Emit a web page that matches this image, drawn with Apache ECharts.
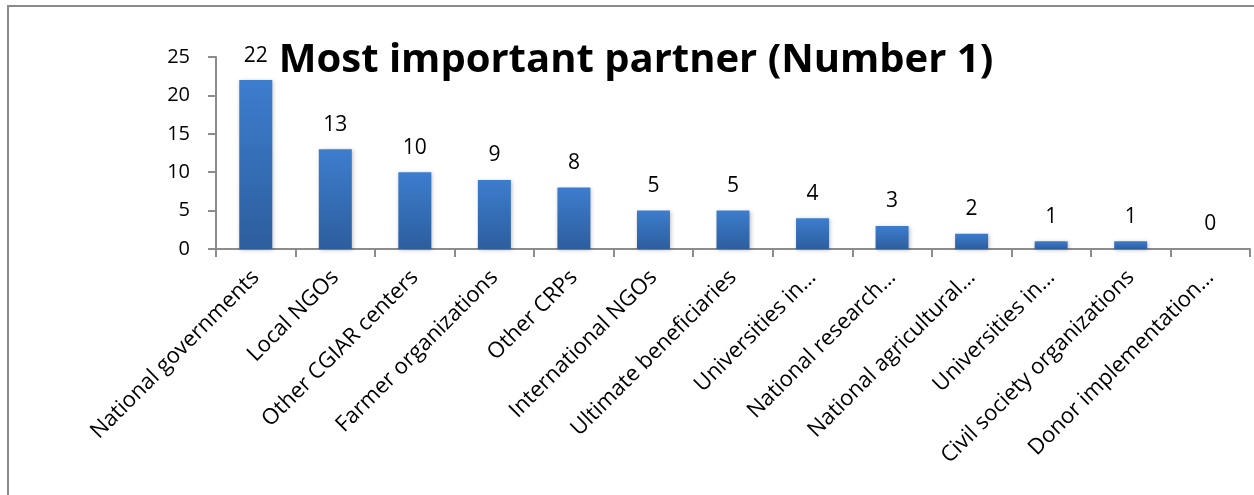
<!DOCTYPE html>
<html>
<head>
<meta charset="utf-8">
<script src="https://cdn.jsdelivr.net/npm/echarts@6/dist/echarts.min.js"></script>
<style>
  html, body { margin: 0; padding: 0; background: #fff; }
  #chart { width: 1254px; height: 495px; }
</style>
</head>
<body>
<div id="chart"></div>
<script>
// Partner categories and the number of times each was named most important
const categories = [
  'National governments',
  'Local NGOs',
  'Other CGIAR centers',
  'Farmer organizations',
  'Other CRPs',
  'International NGOs',
  'Ultimate beneficiaries',
  'Universities in…',
  'National research…',
  'National agricultural…',
  'Universities in…',
  'Civil society organizations',
  'Donor implementation…'
];
const counts = [22, 13, 10, 9, 8, 5, 5, 4, 3, 2, 1, 1, 0];
const yTicks = { min: 0, max: 25, interval: 5 };

const FONT = '"Open Sans", Lato, sans-serif';
const chart = echarts.init(document.getElementById('chart'));

chart.setOption({
  animation: false,
  backgroundColor: '#fff',
  title: {
    text: 'Most important partner (Number 1)',
    left: 631,
    top: 36,
    textAlign: 'center',
    textStyle: { fontFamily: FONT, fontWeight: 'bold', fontSize: 40, color: '#000' }
  },
  graphic: [{
    type: 'rect',
    shape: { x: 8, y: 6, width: 1300, height: 600 },
    style: { fill: 'none', stroke: '#8a8a8a', lineWidth: 2 },
    silent: true
  }],
  grid: { left: 216, right: 4, top: 57, bottom: 246, containLabel: false },
  xAxis: {
    type: 'category',
    data: categories,
    axisLine: { lineStyle: { color: '#8c8c8c', width: 2 } },
    axisTick: { show: true, length: 8, lineStyle: { color: '#8c8c8c', width: 2 } },
    axisLabel: {
      interval: 0,
      rotate: 45,
      margin: 25,
      fontFamily: FONT,
      fontSize: 22,
      color: '#000'
    }
  },
  yAxis: {
    type: 'value',
    min: yTicks.min,
    max: yTicks.max,
    interval: yTicks.interval,
    splitLine: { show: false },
    axisLine: { show: true, lineStyle: { color: '#8c8c8c', width: 2 } },
    axisTick: { show: true, length: 8, lineStyle: { color: '#8c8c8c', width: 2 } },
    axisLabel: { margin: 26, fontFamily: FONT, fontSize: 20, color: '#000' }
  },
  series: [{
    type: 'bar',
    data: counts,
    barWidth: 33,
    itemStyle: {
      color: new echarts.graphic.LinearGradient(0, 0, 0, 1, [
        { offset: 0, color: '#3d7dce' },
        { offset: 1, color: '#2d5e9e' }
      ]),
      shadowBlur: 4,
      shadowColor: 'rgba(0,0,0,0.25)',
      shadowOffsetX: 1,
      shadowOffsetY: 1
    },
    label: {
      show: true,
      position: 'top',
      distance: 14,
      fontFamily: FONT,
      fontSize: 21,
      color: '#000'
    }
  }]
});
</script>
</body>
</html>
